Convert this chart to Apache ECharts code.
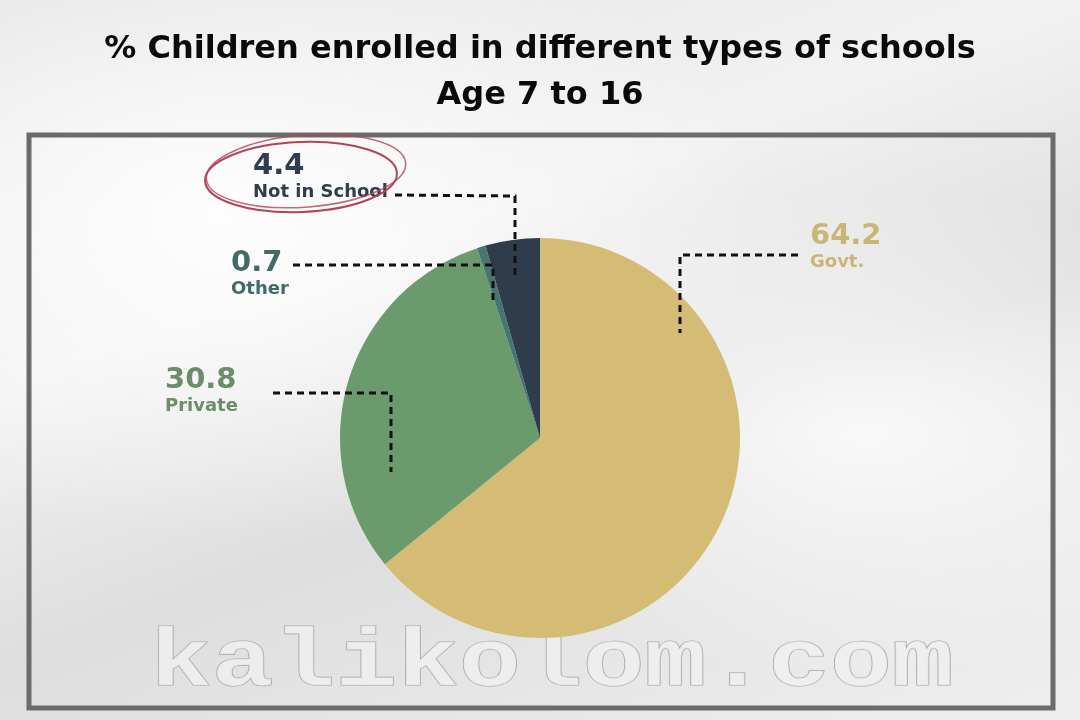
<!DOCTYPE html>
<html>
<head>
<meta charset="utf-8">
<script src="https://cdn.jsdelivr.net/npm/echarts@6/dist/echarts.min.js"></script>
<style>
  html, body { margin: 0; padding: 0; }
  body {
    width: 1080px; height: 720px;
    background:
      radial-gradient(ellipse at 20% 30%, rgba(255,255,255,0.9), rgba(255,255,255,0) 45%),
      radial-gradient(ellipse at 80% 60%, rgba(255,255,255,0.8), rgba(255,255,255,0) 40%),
      linear-gradient(160deg, #e4e4e4 0%, #f2f2f2 35%, #dedede 60%, #efefef 100%);
  }
  #chart { width: 1080px; height: 720px; }
</style>
</head>
<body>
<div id="chart"></div>
<script>
// data
const categories = ['Govt.', 'Private', 'Other', 'Not in School'];
const shares = [64.2, 30.8, 0.7, 4.4];
const sliceColors = ['#d4bc75', '#6b9a6d', '#47756f', '#2e3c4b'];
const labelColors = ['#c9b677', '#6c8c6b', '#416b66', '#2f3d4c'];

// where each label sits (top-left corner)
const labelPos = [[810, 221], [165, 365], [231, 248], [253, 151]];

const FONT = '"DejaVu Sans", "Liberation Sans", sans-serif';

const chart = echarts.init(document.getElementById('chart'));

const dash = { stroke: '#111', lineWidth: 3, lineDash: [7, 5] };
const leader = (pts) => ({ type: 'polyline', shape: { points: pts }, style: dash, z: 10 });

const option = {
  backgroundColor: 'transparent',
  title: {
    text: '% Children enrolled in different types of schools\nAge 7 to 16',
    left: 'center',
    top: 22,
    textStyle: {
      fontFamily: FONT,
      fontWeight: 'bold',
      fontSize: 32,
      lineHeight: 46,
      color: '#0a0a0a',
      align: 'center'
    }
  },
  graphic: [
    {
      type: 'rect',
      shape: { x: 29, y: 135, width: 1024, height: 573 },
      style: { fill: 'none', stroke: '#6b6b6b', lineWidth: 5 },
      z: -1
    },
    {
      type: 'text',
      x: 150,
      y: 664,
      scaleY: 0.8,
      style: {
        x: 0,
        y: 0,
        text: 'kalikolom.com',
        verticalAlign: 'middle',
        fontFamily: '"Liberation Mono", "DejaVu Sans Mono", monospace',
        fontWeight: 'bold',
        fontSize: 103,
        fill: 'rgba(240,240,240,0.8)',
        stroke: '#a5a5a5',
        lineWidth: 1.5
      },
      z: 0
    },
    leader([[395, 195], [515, 196], [515, 276]]),
    leader([[293, 265], [493, 265], [493, 300]]),
    leader([[273, 393], [391, 393], [391, 472]]),
    leader([[798, 255], [680, 255], [680, 333]]),
    {
      type: 'ellipse',
      x: 301, y: 177,
      shape: { cx: 0, cy: 0, rx: 96, ry: 35 },
      rotation: 0.04,
      style: { fill: 'none', stroke: '#b0455a', lineWidth: 2 },
      z: 11
    },
    {
      type: 'ellipse',
      x: 306, y: 171,
      shape: { cx: 0, cy: 0, rx: 100, ry: 36 },
      rotation: 0.08,
      style: { fill: 'none', stroke: '#b0455a', lineWidth: 1.5, opacity: 0.8 },
      z: 11
    }
  ],
  series: [
    {
      type: 'pie',
      center: [540, 438],
      radius: 200,
      startAngle: 90,
      clockwise: true,
      silent: true,
      itemStyle: { borderWidth: 0 },
      labelLine: { show: false },
      label: {
        show: true,
        position: 'outside',
        formatter: (p) => '{v|' + p.value + '}\n{n|' + p.name + '}',
        rich: {
          v: {
            fontFamily: FONT,
            fontWeight: 'bold',
            fontSize: 29,
            lineHeight: 31
          },
          n: {
            fontFamily: FONT,
            fontWeight: 'bold',
            fontSize: 18,
            lineHeight: 20
          }
        }
      },
      labelLayout: (params) => {
        const pos = labelPos[params.dataIndex];
        return { x: pos[0], y: pos[1], align: 'left', verticalAlign: 'top' };
      },
      data: categories.map((name, i) => ({
        name: name,
        value: shares[i],
        itemStyle: { color: sliceColors[i] },
        label: {
          rich: {
            v: { color: labelColors[i] },
            n: { color: labelColors[i] }
          }
        }
      }))
    }
  ]
};

chart.setOption(option);
</script>
</body>
</html>
